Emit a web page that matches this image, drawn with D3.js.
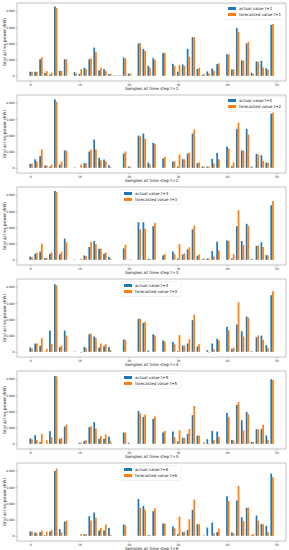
<!DOCTYPE html>
<html>
<head>
<meta charset="utf-8">
<script src="https://cdn.jsdelivr.net/npm/d3@7"></script>
<style>
  body { margin: 0; background: #fff; }
  svg { display: block; font-family: "DejaVu Sans", sans-serif; }
  .tick text { fill: #222; }
</style>
</head>
<body>
<div class="container"></div>
<script>
const WIDTH = 289;
const HEIGHT = 550;
const LEFT = 17;
const RIGHT = 286;
const PANEL_STEP = 92;
const PANEL_TOP = 3;
const PANEL_H = 78;

var samples = [0,1,2,3,4,5,6,7,8,9,10,11,12,13,14,15,16,17,18,19,20,21,22,23,24,
  25,26,27,28,29,30,31,32,33,34,35,36,37,38,39,40,41,42,43,44,45,46,47,48,49];
var horizons = ["t+1", "t+2", "t+3", "t+4", "t+5", "t+6"];
var xTicks = [0, 10, 20, 30, 40, 50];
var yTicks = [0, 1000, 2000, 3000, 4000];

var actual1 = [250,250,1020,180,80,4270,300,1020,0,225,120,490,1020,1740,330,410,100,20,20,1130,140,0,1990,1660,615,
  1090,0,1415,0,740,250,700,1660,2380,430,60,270,450,720,0,1330,390,2950,945,1990,185,880,920,470,3140];
var forecast1 = [250,250,1150,290,200,4180,300,1020,0,140,410,410,1070,1460,490,290,120,30,30,1070,140,0,2030,1540,490,
  985,0,1415,0,615,655,615,1170,2380,490,120,140,310,780,0,1330,390,2710,945,2090,120,880,510,370,3200];

var actual2 = [245,530,720,145,80,4225,205,1070,0,20,0,290,1005,1745,615,510,165,0,0,880,80,0,1990,2110,330,
  1540,0,575,0,390,80,530,880,2110,290,80,80,555,920,0,1310,100,2400,1070,2400,80,860,780,330,3340];
var forecast2 = [265,390,1130,145,205,4080,390,1070,0,0,205,290,1130,1130,470,410,40,0,0,1005,60,0,1930,1800,205,
  1475,0,680,0,390,820,530,945,2360,330,80,80,265,530,0,1190,330,2790,1070,2050,0,820,430,310,3400];

var actual3 = [205,375,500,105,375,4250,350,1305,0,20,0,270,790,1160,685,375,185,0,0,705,0,0,2320,2320,60,
  2070,0,270,0,520,80,330,640,1885,250,40,80,540,1120,0,1200,80,2070,1160,2220,60,850,1080,290,3360];
var forecast3 = [165,435,995,105,455,4190,500,1080,0,0,80,230,1100,955,685,455,80,0,0,930,40,0,1885,1930,60,
  2280,0,350,0,350,975,395,765,2115,330,80,80,205,580,0,1160,350,3065,910,2095,0,890,790,270,3630];

var actual4 = [265,510,370,20,1310,4165,285,1310,0,20,0,310,1085,945,265,350,285,0,0,760,0,0,2030,1785,80,
  1085,0,700,0,615,40,390,510,1950,330,0,100,510,800,0,1540,185,1680,1270,2175,40,900,1005,410,3490];
var forecast4 = [205,510,840,185,490,4100,390,1005,0,0,-50,225,1130,840,510,470,100,0,0,720,0,0,2050,1845,0,
  1005,0,635,0,470,1025,390,780,2280,470,0,-40,165,720,0,1330,265,3055,945,2110,0,1005,740,225,3740];

var actual5 = [330,535,100,0,780,4185,310,1065,0,0,60,185,1025,1335,310,310,450,0,0,700,60,0,2030,1660,0,
  1540,0,700,0,760,145,370,615,1765,515,0,285,800,760,0,1910,245,2400,1455,1970,120,900,925,515,3980];
var forecast5 = [285,225,615,225,410,4165,370,1190,0,0,60,225,1085,945,490,575,145,0,0,700,0,0,1890,1800,0,
  1680,0,800,0,410,840,370,925,2340,490,100,-30,225,430,0,1640,205,2585,820,1825,120,900,1170,245,3940];

var actual6 = [265,205,225,40,265,4000,410,880,0,0,0,100,1210,1435,330,330,490,0,0,700,0,0,2275,1845,40,
  1520,0,760,0,575,100,225,370,1600,720,0,510,820,225,0,2440,205,2175,1150,1725,40,1250,740,615,3835];
var forecast6 = [265,145,330,265,370,4145,205,945,0,0,120,100,945,1110,490,700,60,0,0,635,0,0,1725,1620,40,
  1700,0,760,0,470,1190,265,1025,2235,720,40,0,165,430,0,2135,165,3075,900,1745,120,945,700,225,3610];

var actuals = [actual1, actual2, actual3, actual4, actual5, actual6];
var forecasts = [forecast1, forecast2, forecast3, forecast4, forecast5, forecast6];

const BLUE = "#1f77b4";
const ORANGE = "#ff7f0e";
const BAR_W = 0.35;

var svg = d3.select('.container').append('svg')
  .attr('width', WIDTH)
  .attr('height', HEIGHT);

var xScale = d3.scaleLinear()
  .domain([-2.7, 52.0])
  .range([LEFT, RIGHT]);

var drawPanel = function (k) {
  var top = PANEL_TOP + k * PANEL_STEP;
  var yScale = d3.scaleLinear()
    .domain([-320, 4490])
    .range([top + PANEL_H, top]);

  var g = svg.append('g');
  var zero = yScale(0);
  var bw = xScale(BAR_W) - xScale(0);

  g.selectAll('.blue').data(actuals[k]).enter().append('rect')
    .attr('x', function (d, i) { return xScale(samples[i]) - bw / 2; })
    .attr('y', function (d) { return Math.min(yScale(d), zero); })
    .attr('width', bw)
    .attr('height', function (d) { return Math.abs(zero - yScale(d)); })
    .attr('fill', BLUE);

  g.selectAll('.orange').data(forecasts[k]).enter().append('rect')
    .attr('x', function (d, i) { return xScale(samples[i] + BAR_W) - bw / 2; })
    .attr('y', function (d) { return Math.min(yScale(d), zero); })
    .attr('width', bw)
    .attr('height', function (d) { return Math.abs(zero - yScale(d)); })
    .attr('fill', ORANGE);

  // axes
  var xAxis = d3.axisBottom(xScale).tickValues(xTicks).tickSize(1.5).tickPadding(1);
  var yAxis = d3.axisLeft(yScale).tickValues(yTicks).tickSize(1.5).tickPadding(1);

  var gx = g.append('g')
    .attr('transform', 'translate(0,' + (top + PANEL_H) + ')')
    .call(xAxis);
  var gy = g.append('g')
    .attr('transform', 'translate(' + LEFT + ',0)')
    .call(yAxis);
  [gx, gy].forEach(function (a) {
    a.select('.domain').remove();
    a.selectAll('.tick line').attr('stroke', '#666').attr('stroke-width', 0.4);
    a.selectAll('.tick text').attr('font-size', 3).attr('font-family', '"DejaVu Sans", sans-serif');
  });

  // frame
  g.append('rect')
    .attr('x', LEFT).attr('y', top)
    .attr('width', RIGHT - LEFT).attr('height', PANEL_H)
    .attr('fill', 'none')
    .attr('stroke', '#888')
    .attr('stroke-width', 0.5);

  g.append('text')
    .attr('x', (LEFT + RIGHT) / 2)
    .attr('y', top + PANEL_H + 8.5)
    .attr('text-anchor', 'middle')
    .attr('font-size', 4.2)
    .attr('fill', '#222')
    .text('Samples at time step ' + horizons[k]);

  g.append('text')
    .attr('transform', 'translate(6,' + (top + PANEL_H / 2) + ') rotate(-90)')
    .attr('text-anchor', 'middle')
    .attr('font-size', 4.2)
    .attr('fill', '#222')
    .text('Grid active power (kW)');

  // legend
  var lx = k < 2 ? 225 : 121;
  var ly = k < 2 ? top + 1.5 : top + 2.5;
  var leg = g.append('g').attr('transform', 'translate(' + lx + ',' + ly + ')');
  leg.append('rect')
    .attr('width', 60).attr('height', 15)
    .attr('rx', 1).attr('ry', 1)
    .attr('fill', '#fff').attr('fill-opacity', 0.8)
    .attr('stroke', '#ddd').attr('stroke-width', 0.4);
  var items = [['actual value ' + horizons[k], BLUE], ['forecasted value ' + horizons[k], ORANGE]];
  items.forEach(function (it, j) {
    leg.append('rect')
      .attr('x', 3).attr('y', 2.5 + j * 6)
      .attr('width', 8).attr('height', 3)
      .attr('fill', it[1]);
    leg.append('text')
      .attr('x', 14).attr('y', 5.4 + j * 6)
      .attr('font-size', 4)
      .attr('fill', '#222')
      .text(it[0]);
  });
};

for (var k = 0; k < 6; k++) drawPanel(k);
</script>
</body>
</html>
